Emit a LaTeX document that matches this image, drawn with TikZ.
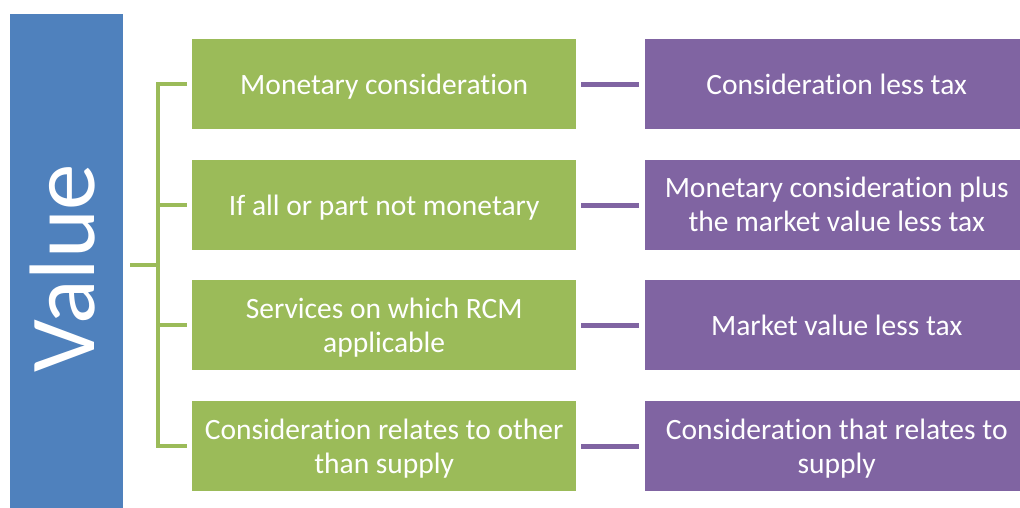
\documentclass[tikz,border=0pt]{standalone}
\usepackage{fontspec}
\setmainfont[Ligatures={NoCommon}]{Carlito}
\definecolor{vblue}{HTML}{4F81BD}
\definecolor{vgreen}{HTML}{9BBB59}
\definecolor{vpurple}{HTML}{8064A2}
\begin{document}
\begin{tikzpicture}[x=1pt,y=-1pt,
  boxtext/.style={text=white,align=center,font=\fontsize{29.5}{34}\selectfont},
  gbox/.style={fill=vgreen,draw=none,minimum width=384pt,minimum height=90pt,inner sep=0pt,anchor=north west},
  pbox/.style={fill=vpurple,draw=none,minimum width=375pt,minimum height=90pt,inner sep=0pt,anchor=north west},
  glink/.style={draw=vgreen,line width=4pt},
  plink/.style={draw=vpurple,line width=5pt,shorten <=5pt,shorten >=6pt}]
\useasboundingbox (0,0) rectangle (1020,508);
\node[fill=vblue,minimum width=113pt,minimum height=510pt,inner sep=0pt,anchor=north west] (val) at (10,14) {};
\node[text=white,rotate=90,font=\fontsize{93}{100}\selectfont] (valtext) at (63,268) {Value};
\node[gbox] (g1) at (192,39) {};
\node[gbox] (g2) at (192,160) {};
\node[gbox] (g3) at (192,280) {};
\node[gbox] (g4) at (192,401) {};
\node[pbox] (p1) at (645,39) {};
\node[pbox] (p2) at (645,160) {};
\node[pbox] (p3) at (645,280) {};
\node[pbox] (p4) at (645,401) {};
\node[boxtext] (t1) at ([yshift=-2pt]g1.center) {Monetary consideration};
\node[boxtext] (t2) at ([yshift=-2pt]g2.center) {If all or part not monetary};
\node[boxtext] (t3) at ([yshift=-2pt]g3.center) {Services on which RCM\\applicable};
\node[boxtext] (t4) at ([yshift=-2pt]g4.center) {Consideration relates to other\\than supply};
\node[boxtext] (u1) at ([xshift=4pt]p1.center) {Consideration less tax};
\node[boxtext] (u2) at ([xshift=4pt,yshift=1pt]p2.center) {Monetary consideration plus\\the market value less tax};
\node[boxtext] (u3) at ([xshift=4pt]p3.center) {Market value less tax};
\node[boxtext] (u4) at ([xshift=4pt,yshift=-2pt]p4.center) {Consideration that relates to\\supply};
\foreach \i in {1,2,3,4} {\draw[plink] (g\i.east) -- (p\i.west);}
\coordinate (bx) at (158,265);
\draw[glink] ([xshift=-5pt]g1.west) -- (bx |- g1.west) -- (bx |- g4.west) -- ([xshift=-5pt]g4.west);
\draw[glink] (bx |- g2.west) -- ([xshift=-5pt]g2.west);
\draw[glink] (bx |- g3.west) -- ([xshift=-5pt]g3.west);
\draw[glink] ([xshift=7pt]val.east |- bx) -- (bx);
\end{tikzpicture}
\end{document}
